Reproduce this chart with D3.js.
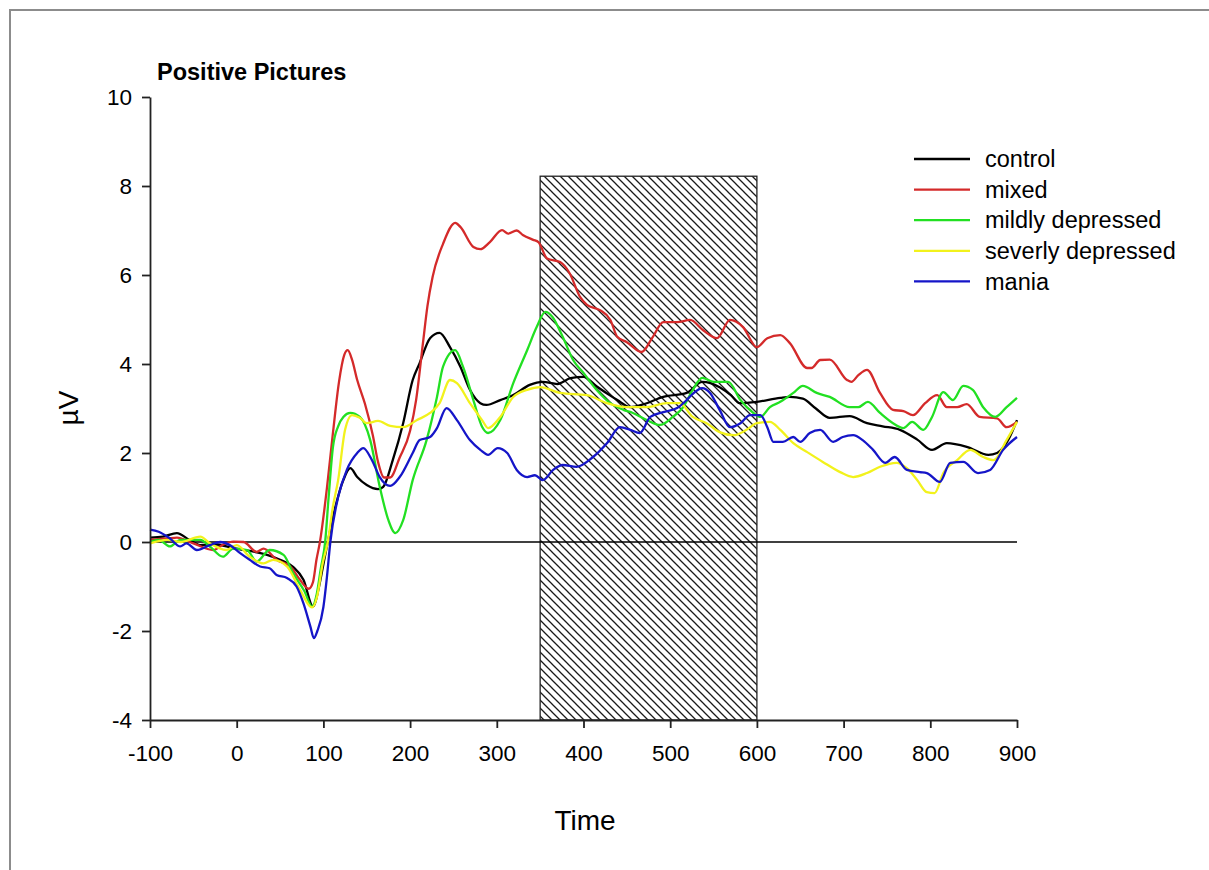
<!DOCTYPE html>
<html>
<head>
<meta charset="utf-8">
<script src="https://cdn.jsdelivr.net/npm/d3@7"></script>
<style>
  html, body { margin: 0; padding: 0; background: #fff; }
  svg { display: block; font-family: "Liberation Sans", Arial, sans-serif; }
</style>
</head>
<body>
<svg id="chart" width="1209" height="870"></svg>
<script>
// ERP waveforms, time (ms) vs amplitude (µV)
const control = [[-100,0.1],[-85,0.12],[-69,0.2],[-55,0.05],[-42,-0.07],[-25,-0.05],[-4,-0.14],[15,-0.2],[35,-0.29],[50,-0.4],[65,-0.56],[77,-0.85],[88,-1.45],[95,-1.0],[100,-0.5],[105,0],[115,0.88],[123,1.39],[131,1.66],[139,1.46],[150,1.28],[163,1.19],[169,1.24],[180,1.84],[192,2.67],[203,3.64],[211,4.02],[223,4.58],[234,4.7],[246,4.38],[258,3.94],[269,3.42],[281,3.12],[288,3.08],[304,3.19],[319,3.3],[338,3.53],[353,3.6],[370,3.55],[385,3.68],[400,3.71],[415,3.5],[430,3.3],[439,3.19],[454,3.03],[470,3.1],[492,3.26],[519,3.35],[537,3.6],[557,3.48],[570,3.3],[580,3.12],[600,3.15],[627,3.24],[638,3.26],[653,3.22],[668,3.0],[684,2.79],[707,2.83],[727,2.67],[745,2.6],[765,2.52],[785,2.3],[802,2.07],[819,2.22],[842,2.14],[867,1.96],[877,2.0],[890,2.3],[900,2.74]];

const mixed = [[-100,0.05],[-80,0.08],[-69,0.1],[-50,-0.03],[-27,-0.18],[-15,-0.05],[-4,0.01],[8,0.0],[23,-0.22],[31,-0.15],[46,-0.4],[62,-0.55],[73,-0.85],[83,-1.05],[88,-0.9],[92,-0.4],[96,0],[104,1.2],[111,2.45],[118,3.6],[124,4.2],[128,4.31],[133,4.1],[139,3.64],[148,3.1],[157,2.4],[163,1.8],[170,1.45],[177,1.45],[188,1.9],[200,2.5],[207,3.2],[215,4.5],[220,5.3],[226,5.96],[238,6.7],[252,7.17],[258,7.08],[273,6.63],[281,6.58],[292,6.74],[306,7.01],[313,6.93],[323,7.0],[330,6.9],[342,6.79],[348,6.74],[358,6.37],[373,6.29],[384,6.04],[396,5.51],[404,5.33],[419,5.21],[431,4.99],[439,4.61],[450,4.49],[467,4.27],[480,4.61],[492,4.94],[508,4.94],[523,4.99],[538,4.76],[554,4.58],[569,4.99],[584,4.83],[600,4.38],[612,4.58],[627,4.65],[638,4.47],[658,3.91],[663,3.91],[673,4.09],[684,4.1],[704,3.64],[709,3.6],[717,3.75],[727,3.87],[742,3.35],[757,2.97],[769,2.94],[780,2.85],[794,3.12],[808,3.3],[819,3.03],[831,3.03],[842,3.1],[857,2.81],[877,2.78],[888,2.58],[900,2.7]];

const mildlyDepressed = [[-100,0.0],[-90,0.05],[-77,-0.1],[-65,0.05],[-42,0.05],[-31,-0.1],[-16,-0.33],[-4,-0.15],[12,-0.18],[23,-0.44],[38,-0.18],[54,-0.29],[65,-0.7],[78,-1.1],[87,-1.45],[92,-1.2],[97,-0.6],[102,0],[106,1.0],[111,2.13],[117,2.6],[123,2.81],[131,2.9],[142,2.81],[154,2.29],[165,1.24],[175,0.49],[183,0.2],[192,0.49],[203,1.39],[219,2.29],[231,3.26],[238,3.94],[252,4.31],[261,3.94],[273,3.19],[283,2.59],[290,2.45],[304,2.74],[319,3.57],[335,4.31],[346,4.83],[356,5.17],[364,5.06],[376,4.61],[388,4.09],[400,3.8],[415,3.42],[431,3.12],[446,2.97],[457,2.9],[473,2.74],[488,2.63],[503,2.81],[515,3.03],[526,3.42],[537,3.69],[550,3.6],[567,3.6],[581,3.19],[596,2.9],[604,2.81],[615,3.03],[627,3.15],[642,3.35],[653,3.51],[669,3.35],[684,3.26],[707,3.03],[717,3.03],[728,3.15],[742,2.9],[757,2.67],[769,2.56],[779,2.7],[792,2.52],[802,2.81],[815,3.37],[826,3.19],[838,3.51],[849,3.42],[861,3.03],[875,2.81],[888,3.03],[900,3.24]];

const severelyDepressed = [[-100,-0.03],[-80,0.05],[-65,0.0],[-42,0.12],[-31,-0.03],[-12,-0.18],[0,-0.07],[15,-0.33],[31,-0.48],[42,-0.4],[58,-0.55],[73,-1.07],[87,-1.47],[93,-1.2],[99,-0.5],[105,0],[111,0.8],[117,1.39],[125,2.52],[133,2.85],[142,2.79],[150,2.67],[163,2.72],[177,2.61],[192,2.58],[208,2.74],[223,2.9],[234,3.12],[246,3.64],[254,3.57],[269,3.12],[283,2.74],[290,2.56],[304,2.81],[319,3.26],[335,3.42],[350,3.48],[373,3.35],[404,3.3],[427,3.12],[450,3.03],[473,3.03],[496,3.12],[511,3.12],[526,2.81],[542,2.67],[557,2.47],[573,2.4],[588,2.52],[600,2.67],[615,2.7],[627,2.52],[642,2.22],[658,2.02],[676,1.8],[696,1.57],[711,1.46],[727,1.55],[742,1.69],[761,1.78],[773,1.66],[785,1.39],[796,1.12],[805,1.1],[815,1.55],[831,1.84],[846,2.07],[861,1.91],[873,1.84],[888,2.29],[900,2.7]];

const mania = [[-100,0.28],[-90,0.23],[-77,0.08],[-65,-0.1],[-58,-0.03],[-46,-0.18],[-31,-0.07],[-19,0.0],[-8,-0.07],[4,-0.25],[15,-0.4],[27,-0.55],[38,-0.59],[46,-0.74],[58,-0.81],[69,-1.0],[77,-1.38],[85,-1.9],[89,-2.16],[93,-2.0],[100,-1.46],[104,-0.8],[108,0.0],[117,1.01],[127,1.62],[139,2.0],[146,2.11],[156,1.84],[165,1.46],[177,1.26],[188,1.46],[203,2.0],[211,2.29],[223,2.36],[231,2.56],[242,3.01],[254,2.74],[269,2.29],[281,2.07],[290,1.96],[301,2.11],[312,2.0],[323,1.62],[335,1.46],[344,1.5],[353,1.39],[365,1.62],[376,1.73],[392,1.69],[411,1.91],[427,2.22],[442,2.58],[454,2.52],[465,2.45],[477,2.81],[492,2.92],[508,3.01],[519,3.19],[526,3.33],[537,3.46],[546,3.35],[557,2.97],[569,2.58],[581,2.67],[592,2.85],[604,2.85],[612,2.58],[619,2.25],[630,2.25],[642,2.36],[650,2.25],[661,2.45],[673,2.52],[688,2.25],[699,2.36],[711,2.4],[722,2.29],[734,2.07],[748,1.78],[759,1.91],[773,1.62],[788,1.57],[796,1.55],[811,1.35],[823,1.78],[838,1.8],[855,1.55],[869,1.62],[884,2.07],[900,2.36]];

const seriesNames = ["control", "mixed", "mildly depressed", "severly depressed", "mania"];
const seriesData = [control, mixed, mildlyDepressed, severelyDepressed, mania];
const seriesColors = ["#000000", "#d42a2a", "#22e022", "#f2f21c", "#1515c8"];

const xTicks = [-100, 0, 100, 200, 300, 400, 500, 600, 700, 800, 900];
const yTicks = [-4, -2, 0, 2, 4, 6, 8, 10];

// analysis window shown as a hatched band
const windowStart = 350, windowEnd = 600, windowTop = 8.22;

const svg = d3.select("#chart");

// outer frame
svg.append("rect")
  .attr("x", 10).attr("y", 10).attr("width", 1260).attr("height", 900)
  .attr("fill", "none").attr("stroke", "#8c8c8c").attr("stroke-width", 2);

const x = d3.scaleLinear().domain([-100, 900]).range([150, 1017]);
const y = d3.scaleLinear().domain([-4, 10]).range([720, 97]);

// hatch pattern
const defs = svg.append("defs");
const pat = defs.append("pattern")
  .attr("id", "hatch").attr("patternUnits", "userSpaceOnUse")
  .attr("width", 8).attr("height", 8);
pat.append("path")
  .attr("d", "M-2,-2 L10,10 M-2,6 L2,10 M6,-2 L10,2")
  .attr("stroke", "#1a1a1a").attr("stroke-width", 1.3);

svg.append("rect")
  .attr("x", x(windowStart)).attr("y", y(windowTop))
  .attr("width", x(windowEnd) - x(windowStart))
  .attr("height", y(-4) - y(windowTop))
  .attr("fill", "url(#hatch)")
  .attr("stroke", "#222").attr("stroke-width", 1.3);

// zero reference line
svg.append("line")
  .attr("x1", x(-100)).attr("x2", x(900))
  .attr("y1", y(0)).attr("y2", y(0))
  .attr("stroke", "#000").attr("stroke-width", 1.6);

// waveforms
const line = d3.line()
  .x(d => x(d[0])).y(d => y(d[1]))
  .curve(d3.curveMonotoneX);

seriesData.forEach((data, i) => {
  svg.append("path")
    .datum(data)
    .attr("d", line)
    .attr("fill", "none")
    .attr("stroke", seriesColors[i])
    .attr("stroke-width", 2.3)
    .attr("stroke-linejoin", "round");
});

// axes (plain hyphen for negative numbers)
const fmt = d => String(d);
const xAxis = d3.axisBottom(x).tickValues(xTicks).tickFormat(fmt).tickSize(8).tickSizeOuter(0).tickPadding(14);
const yAxis = d3.axisLeft(y).tickValues(yTicks).tickFormat(fmt).tickSize(8).tickSizeOuter(0).tickPadding(10);

const gx = svg.append("g").attr("transform", `translate(0,${y(-4)})`).call(xAxis);
const gy = svg.append("g").attr("transform", `translate(${x(-100)},0)`).call(yAxis);

[gx, gy].forEach(g => {
  g.select(".domain").attr("stroke", "#222").attr("stroke-width", 1.8);
  g.selectAll(".tick line").attr("stroke", "#222").attr("stroke-width", 1.8);
  g.selectAll(".tick text")
    .attr("fill", "#000")
    .style("font-size", "22.5px")
    .style("font-family", "'Liberation Sans', Arial, sans-serif");
});
gx.selectAll(".tick text").attr("dy", "0.85em");
gy.selectAll(".tick text").attr("dy", "0.35em");

// labels
svg.append("text")
  .attr("x", 157).attr("y", 80)
  .attr("font-weight", "bold").attr("font-size", 23.5)
  .text("Positive Pictures");

svg.append("text")
  .attr("x", 585).attr("y", 830)
  .attr("text-anchor", "middle").attr("font-size", 28)
  .text("Time");

svg.append("text")
  .attr("transform", "translate(78,408) rotate(-90)")
  .attr("text-anchor", "middle").attr("font-size", 28)
  .text("µV");

// legend
const legend = svg.append("g");
seriesNames.forEach((name, i) => {
  const ly = 159 + i * 30.6;
  legend.append("line")
    .attr("x1", 914).attr("x2", 970)
    .attr("y1", ly).attr("y2", ly)
    .attr("stroke", seriesColors[i]).attr("stroke-width", 2.3);
  legend.append("text")
    .attr("x", 985).attr("y", ly).attr("dy", "0.35em")
    .attr("font-size", 23.5)
    .text(name);
});
</script>
</body>
</html>
